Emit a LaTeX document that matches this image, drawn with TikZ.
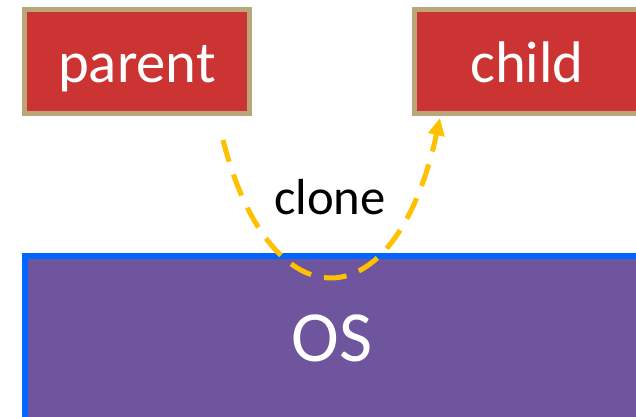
\documentclass[tikz,border=0pt]{standalone}
\usepackage{fontspec}
\setmainfont{Carlito}
\usetikzlibrary{arrows.meta}
\definecolor{procred}{RGB}{204,51,51}
\definecolor{proctan}{RGB}{185,166,122}
\definecolor{ospurple}{RGB}{111,85,158}
\definecolor{osblue}{RGB}{0,102,255}
\definecolor{cloneyellow}{RGB}{255,192,0}
\tikzset{
  proc/.style={draw=proctan, fill=procred, line width=3.75pt, text=white,
    minimum width=168.75pt, minimum height=78.4pt, text height=33pt, text depth=2pt,
    font=\fontsize{44}{44}\selectfont},
}

\begin{document}
\begin{tikzpicture}[x=0.75pt,y=-0.75pt]
\useasboundingbox (0,0) rectangle (636,417);
\clip (0,0) rectangle (636,417);

\node[proc] (parent) at (137,61.5) {parent};
\node[proc] (child) at (527,61.5) {child};
\node[draw=osblue, fill=ospurple, line width=4.5pt, text=white,
  minimum width=460.5pt, minimum height=123pt,
  font=\fontsize{54}{54}\selectfont] (os) at (332,338) {OS};

\coordinate (forkstart) at (223,140);
\coordinate (forkend) at (440,118);
\draw[cloneyellow, line width=3.75pt, dash pattern=on 17pt off 10pt,
  -{Triangle[length=13pt,width=12pt]}]
  (forkstart) .. controls (270,325) and (395,325) .. (forkend);
\node[font=\fontsize{38}{38}\selectfont] (clone) at (330,197) {clone};
\end{tikzpicture}
\end{document}
